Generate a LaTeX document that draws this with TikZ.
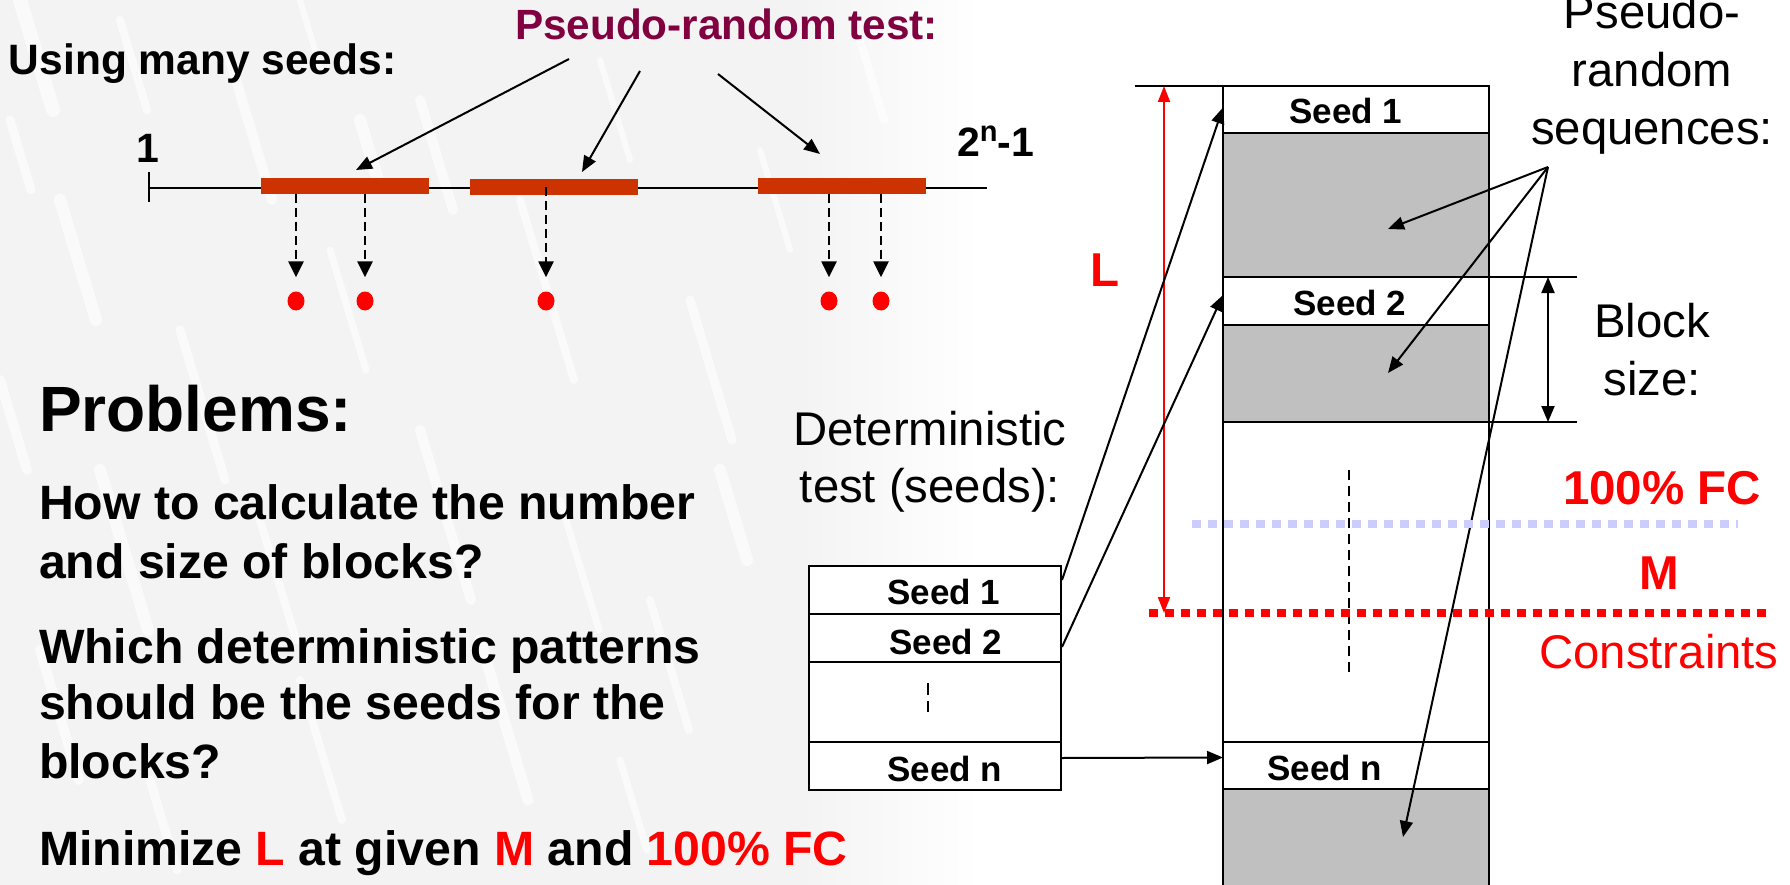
\documentclass[tikz,border=0pt]{standalone}
\usepackage{fontspec}
\setmainfont{Liberation Sans}
\usetikzlibrary{arrows.meta,calc,shapes.geometric}
\definecolor{bggray}{HTML}{F3F3F3}
\definecolor{barred}{HTML}{CC3300}
\definecolor{plum}{HTML}{800040}
\definecolor{fcblue}{HTML}{CCCCFF}
\definecolor{blockgray}{HTML}{C0C0C0}
\definecolor{pured}{HTML}{FF0000}
\begin{document}
\begin{tikzpicture}[x=1pt,y=-1pt,
  lbl/.style={inner sep=0pt, outer sep=0pt},
  bodyb/.style={lbl, anchor=base west, font=\fontsize{48.2}{58}\selectfont\bfseries},
  regtxt/.style={lbl, anchor=base, font=\fontsize{47.3}{58}\selectfont},
  redb/.style={lbl, anchor=base, text=pured, font=\fontsize{47.5}{58}\selectfont\bfseries},
  seedtxt/.style={lbl, anchor=base, font=\fontsize{35}{40}\selectfont\bfseries},
  seedbox/.style={draw, line width=2.5pt, fill=white, inner sep=0pt, outer sep=0pt, anchor=north west},
  grayblock/.style={draw, line width=2.5pt, fill=blockgray, inner sep=0pt, outer sep=0pt, anchor=north west},
  arr/.style={line width=2pt, -{Triangle[length=16pt,width=13pt]}},
  darr/.style={line width=2.5pt, dash pattern=on 9pt off 5pt, -{Triangle[length=16pt,width=15pt]}},
  hitbar/.style={fill=barred, draw=none, inner sep=0pt, outer sep=0pt, minimum width=168pt, minimum height=16pt},
  reddot/.style={ellipse, fill=pured, minimum width=17pt, minimum height=19pt, inner sep=0pt},
  streak/.style={white, line cap=round, opacity=0.65},
]
\useasboundingbox (0,0) rectangle (1790,885);
% background
\fill[white] (0,0) rectangle (1790,885);
\fill[bggray] (0,0) -- (800,0) -- (800,885) -- (0,885) -- cycle;
\shade[left color=bggray, right color=white] (799,0) rectangle (980,885);
\foreach \x/\y/\l/\w in {20/0/110/14, 120/20/90/8, 230/60/140/10, 300/0/70/6, 60/200/120/12,
  180/330/150/9, 330/250/120/7, 420/100/110/10, 520/200/180/8, 600/60/100/6, 100/470/160/12,
  260/520/120/8, 420/430/170/10, 560/500/130/7, 690/300/140/9, 40/650/130/10, 300/680/140/8,
  480/640/160/11, 650/600/130/8, 150/780/90/9, 620/760/90/7, 760/150/100/6, 0/380/90/10,
  860/40/80/8, 360/120/60/12, 10/120/70/9, 720/470/90/12}
  \draw[streak, line width=\w pt] (\x,\y) -- ++(0.3*\l,\l);

% ---------- top: number line ----------
\node[lbl, anchor=base west, font=\fontsize{42.5}{50}\selectfont\bfseries] (seedsttl) at (9,75) {Using many seeds:};
\node[lbl, anchor=base west, text=plum, font=\fontsize{42.3}{50}\selectfont\bfseries] (prtitle) at (515,40) {Pseudo-random test:};
\coordinate (nl0) at (149,188);
\coordinate (nl1) at (987,188);
\draw[line width=2pt] (nl0) -- (nl1);
\draw[line width=2pt] ($(nl0)+(0,-16)$) -- ($(nl0)+(0,14)$);
\node[lbl, anchor=base west, font=\fontsize{41}{48}\selectfont\bfseries] (lone) at (136,163) {1};
\node[lbl, anchor=base west, font=\fontsize{41}{48}\selectfont\bfseries] (ltwo) at (957,157) {2\raisebox{15pt}{\fontsize{29}{29}\selectfont n}-1};
\node[hitbar] (b1) at (345,186) {};
\node[hitbar] (b2) at (553.5,187) {};
\node[hitbar] (b3) at (842,186) {};
\node[reddot] (d1) at (296,301) {};
\node[reddot] (d2) at (365,301) {};
\node[reddot] (d3) at (546,301) {};
\node[reddot] (d4) at (829,301) {};
\node[reddot] (d5) at (881,301) {};
\draw[darr, shorten >=14pt] (b1.south -| d1) -- (d1.north);
\draw[darr, shorten >=14pt] (b1.south -| d2) -- (d2.north);
\draw[darr, shorten >=14pt] (b2.center -| d3) -- (d3.north);
\draw[darr, shorten >=14pt] (b3.south -| d4) -- (d4.north);
\draw[darr, shorten >=14pt] (b3.south -| d5) -- (d5.north);
\coordinate (p1s) at (569,59);  \coordinate (p1e) at (356,170);
\coordinate (p2s) at (640,71);  \coordinate (p2e) at (582,172);
\coordinate (p3s) at (718,74);  \coordinate (p3e) at (820,154);
\draw[arr] (p1s) -- (p1e);
\draw[arr] (p2s) -- (p2e);
\draw[arr] (p3s) -- (p3e);

% ---------- left: problems ----------
\node[lbl, anchor=base west, font=\fontsize{64}{70}\selectfont\bfseries] (probs) at (39,431) {Problems:};
\node[bodyb] (q1a) at (39,519) {How to calculate the number};
\node[bodyb] (q1b) at (39,578) {and size of blocks?};
\node[bodyb] (q2a) at (39,663) {Which deterministic patterns};
\node[bodyb] (q2b) at (39,719) {should be the seeds for the};
\node[bodyb] (q2c) at (39,778) {blocks?};
\node[bodyb] (q3) at (39,865) {Minimize \textcolor{pured}{L} at given \textcolor{pured}{M} and \textcolor{pured}{100\% FC}};

% ---------- deterministic table ----------
\node[regtxt] (dt1) at (930,445) {Deterministic};
\node[regtxt] (dt2) at (930,502) {test (seeds):};
\node[seedbox, minimum width=252pt, minimum height=48pt] (ls1) at (809,566) {};
\node[seedbox, minimum width=252pt, minimum height=48pt] (ls2) at (809,614) {};
\node[seedbox, minimum width=252pt, minimum height=80pt] (ldots) at (809,662) {};
\node[seedbox, minimum width=252pt, minimum height=48pt] (lsn) at (809,742) {};
\node[seedtxt] (ls1t) at (944,604) {Seed 1};
\node[seedtxt] (ls2t) at (946,654) {Seed 2};
\node[seedtxt] (lsnt) at (945,781) {Seed n};
\draw[line width=2pt, dash pattern=on 12pt off 6pt] ($(ldots.center)+(-7,-19)$) -- ($(ldots.center)+(-7,10)$);

% ---------- column ----------
\fill[white] (1223,86) rectangle (1489,885);
\node[seedbox, minimum width=266pt, minimum height=47pt] (cs1) at (1223,86) {};
\node[grayblock, minimum width=266pt, minimum height=144pt] (g1) at (1223,133) {};
\node[seedbox, minimum width=266pt, minimum height=48pt] (cs2) at (1223,277) {};
\node[grayblock, minimum width=266pt, minimum height=97pt] (g2) at (1223,325) {};
\node[seedbox, minimum width=266pt, minimum height=47pt] (csn) at (1223,742) {};
\node[grayblock, minimum width=266pt, minimum height=110pt] (g3) at (1223,789) {};
\draw[line width=2.5pt] (g2.south west) -- (csn.north west);
\draw[line width=2.5pt] (g2.south east) -- (csn.north east);
\node[seedtxt] (cs1t) at (1346,124) {Seed 1};
\node[seedtxt] (cs2t) at (1350,315) {Seed 2};
\node[seedtxt] (csnt) at (1325,780) {Seed n};
\coordinate (topl) at (1135,86);
\draw[line width=2.5pt] (topl) -- (cs1.north west);
\draw[line width=2pt, dash pattern=on 10pt off 6pt] (1349,470) -- (1349,677);

% block size
\coordinate (bs1) at (1446,277); \coordinate (bs1e) at (1577,277);
\coordinate (bs2) at (1446,422); \coordinate (bs2e) at (1577,422);
\draw[line width=2.5pt] (bs1) -- (bs1e);
\draw[line width=2.5pt] (bs2) -- (bs2e);
\draw[line width=2pt, {Triangle[length=16pt,width=13pt]}-{Triangle[length=16pt,width=13pt]}] (1548,277) -- (1548,422);
\node[regtxt] (bsz1) at (1652,337) {Block};
\node[regtxt] (bsz2) at (1652,395) {size:};

% pseudo-random sequences
\node[regtxt] (ps1) at (1652,29) {Pseudo-};
\node[regtxt] (ps2) at (1652,87) {random};
\node[regtxt] (ps3) at (1652,145) {sequences:};
\coordinate (seqpt) at (1548,167);
\draw[arr] (seqpt) -- (1388,229);
\draw[arr] (seqpt) -- (1388,373);
\draw[arr] (seqpt) -- (1403,837);

% dotted constraint lines
\draw[fcblue, line width=8pt, dash pattern=on 9pt off 7pt] (1192,524) -- (1738,524);
\draw[pured, line width=8pt, dash pattern=on 9pt off 7pt] (1149,613) -- (1766,613);
\node[redb] (fc) at (1662,504) {100\% FC};
\node[redb] (mm) at (1659,589) {M};
\node[regtxt, text=pured] (cons) at (1659,668) {Constraints};

% L arrow
\coordinate (Ltop) at (1164,86);
\coordinate (Lbot) at (1164,613);
\draw[pured, line width=2pt, {Triangle[length=16pt,width=12pt]}-{Triangle[length=16pt,width=12pt]}] (Ltop) -- (Lbot);
\node[redb] (ll) at (1105,287) {L};

% seed arrows
\draw[arr] ($(ls1.east)+(1,-10)$) -- ($(cs1.west)+(0,-2)$);
\draw[arr] ($(ls2.east)+(1,9)$) -- ($(cs2.west)+(0,-6)$);
\draw[arr] ($(lsn.east)+(1,-8)$) -- ($(csn.west)+(0,-8)$);
\end{tikzpicture}
\end{document}
